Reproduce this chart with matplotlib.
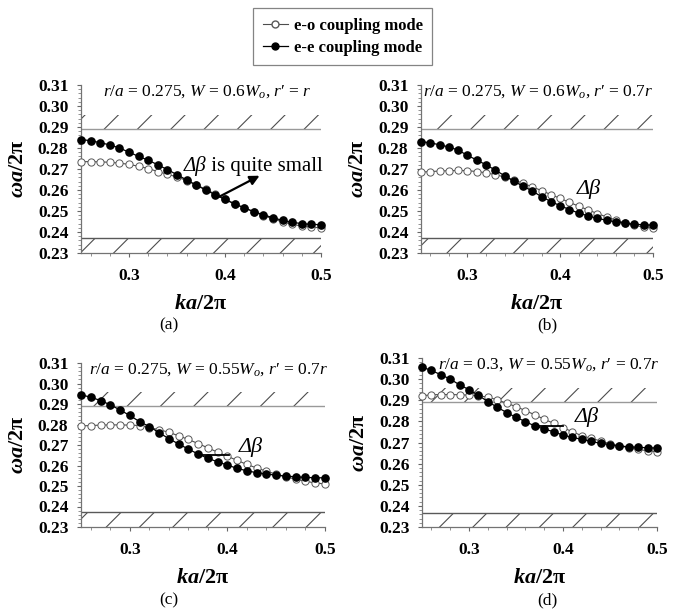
import numpy as np
import matplotlib
matplotlib.use("Agg")
import matplotlib.pyplot as plt
from matplotlib.ticker import MultipleLocator
from matplotlib.lines import Line2D

plt.rcParams['font.family'] = ['Liberation Serif', 'DejaVu Serif']
plt.rcParams['mathtext.fontset'] = 'custom'
plt.rcParams['mathtext.rm'] = 'Liberation Serif'
plt.rcParams['mathtext.it'] = 'Liberation Serif:italic'
plt.rcParams['mathtext.bf'] = 'Liberation Serif:bold'
plt.rcParams['mathtext.bfit'] = 'Liberation Serif:italic:bold'
plt.rcParams['hatch.linewidth'] = 0.8

# wave vector ka/2pi, same grid for every panel
ka = [0.25, 0.26, 0.27, 0.28, 0.29, 0.30, 0.31, 0.32, 0.33, 0.34, 0.35, 0.36, 0.37,
      0.38, 0.39, 0.40, 0.41, 0.42, 0.43, 0.44, 0.45, 0.46, 0.47, 0.48, 0.49, 0.50]

# (a) r/a=0.275, W=0.6Wo, r'=r
ee_a = [0.2840, 0.2835, 0.2825, 0.2815, 0.2800, 0.2780, 0.2760, 0.2742, 0.2720, 0.2697,
        0.2673, 0.2648, 0.2623, 0.2600, 0.2577, 0.2555, 0.2533, 0.2515, 0.2497, 0.2482,
        0.2468, 0.2455, 0.2446, 0.2440, 0.2436, 0.2435]
eo_a = [0.2735, 0.2735, 0.2734, 0.2732, 0.2728, 0.2722, 0.2713, 0.2702, 0.2688, 0.2675,
        0.2662, 0.2645, 0.2625, 0.2603, 0.2580, 0.2558, 0.2535, 0.2515, 0.2496, 0.2478,
        0.2462, 0.2448, 0.2437, 0.2428, 0.2423, 0.2420]

# (b) r/a=0.275, W=0.6Wo, r'=0.7r
ee_b = [0.2830, 0.2825, 0.2815, 0.2805, 0.2790, 0.2765, 0.2743, 0.2720, 0.2695, 0.2668,
        0.2642, 0.2618, 0.2595, 0.2568, 0.2545, 0.2525, 0.2507, 0.2490, 0.2477, 0.2465,
        0.2456, 0.2448, 0.2442, 0.2437, 0.2434, 0.2433]
eo_b = [0.2685, 0.2688, 0.2690, 0.2692, 0.2693, 0.2692, 0.2688, 0.2682, 0.2673, 0.2662,
        0.2648, 0.2632, 0.2615, 0.2597, 0.2578, 0.2560, 0.2541, 0.2523, 0.2505, 0.2488,
        0.2472, 0.2457, 0.2443, 0.2432, 0.2423, 0.2418]

# (c) r/a=0.275, W=0.55Wo, r'=0.7r
ee_c = [0.2945, 0.2933, 0.2917, 0.2896, 0.2871, 0.2844, 0.2814, 0.2790, 0.2760, 0.2731,
        0.2705, 0.2680, 0.2656, 0.2635, 0.2618, 0.2602, 0.2586, 0.2574, 0.2565, 0.2558,
        0.2553, 0.2548, 0.2545, 0.2542, 0.2540, 0.2540]
eo_c = [0.2793, 0.2795, 0.2797, 0.2798, 0.2798, 0.2797, 0.2795, 0.2785, 0.2775, 0.2762,
        0.2745, 0.2727, 0.2707, 0.2686, 0.2665, 0.2645, 0.2625, 0.2605, 0.2588, 0.2572,
        0.2558, 0.2545, 0.2533, 0.2523, 0.2515, 0.2510]

# (d) r/a=0.3, W=0.55Wo, r'=0.7r
ee_d = [0.3057, 0.3041, 0.3021, 0.3000, 0.2973, 0.2950, 0.2923, 0.2894, 0.2867, 0.2842,
        0.2819, 0.2799, 0.2778, 0.2764, 0.2751, 0.2735, 0.2724, 0.2715, 0.2705, 0.2696,
        0.2690, 0.2683, 0.2680, 0.2677, 0.2675, 0.2674]
eo_d = [0.2921, 0.2926, 0.2927, 0.2927, 0.2926, 0.2924, 0.2921, 0.2915, 0.2902, 0.2886,
        0.2870, 0.2851, 0.2831, 0.2810, 0.2791, 0.2770, 0.2751, 0.2732, 0.2720, 0.2707,
        0.2694, 0.2684, 0.2675, 0.2667, 0.2661, 0.2656]

titles = [r"$r/a$ = 0.275, $W$ = 0.6$W_o$, $r′$ = $r$",
          r"$r/a$ = 0.275, $W$ = 0.6$W_o$, $r′$ = 0.7$r$",
          r"$r/a$ = 0.275, $W$ = 0.55$W_o$, $r′$ = 0.7$r$",
          r"$r/a$ = 0.3, $W$ = 0.55$W_o$, $r′$ = 0.7$r$"]
panel_tags = ["(a)", "(b)", "(c)", "(d)"]

# band edges (upper band bottom / lower band top)
upper_edge = [0.289, 0.289, 0.289, 0.289]
lower_edge = [0.2372, 0.2372, 0.2375, 0.2368]

fig = plt.figure(figsize=(6.79, 6.16), dpi=100)
W, H = 679.0, 616.0
boxes = [(81, 321, 85, 253), (421, 653, 85, 253), (81, 325, 363, 527), (422, 657, 358, 527)]
# right end of the in-plot title, in pixels
title_right = [312, 653, 328, 660]

axes = []
for (l, r, t, b) in boxes:
    axes.append(fig.add_axes([l / W, 1 - b / H, (r - l) / W, (b - t) / H]))

series = [(ee_a, eo_a), (ee_b, eo_b), (ee_c, eo_c), (ee_d, eo_d)]

for i, ax in enumerate(axes):
    ee, eo = series[i]
    xs = [0.25, 0.5]
    # hatched band-gap edges
    ax.fill_between(xs, upper_edge[i], upper_edge[i] + 0.0068, facecolor='none',
                    edgecolor='0.3', hatch='/', linewidth=0, zorder=1)
    ax.axhline(upper_edge[i], color='0.6', lw=1.0, zorder=1)
    ax.fill_between(xs, 0.23, lower_edge[i], facecolor='none',
                    edgecolor='0.3', hatch='/', linewidth=0, zorder=1)
    ax.axhline(lower_edge[i], color='0.35', lw=1.0, zorder=1)

    ax.plot(ka, eo, '-o', color='0.3', lw=0.8, ms=5.2, mfc='white', mec='0.35',
            mew=0.7, zorder=3, clip_on=False)
    ax.plot(ka, ee, '-o', color='black', lw=0.9, ms=5.2, mfc='black', mec='black',
            zorder=4, clip_on=False)

    ax.set_xlim(0.25, 0.5)
    ax.set_ylim(0.23, 0.31)
    ax.set_xticks([0.3, 0.4, 0.5])
    ax.set_xticklabels(["0.3", "0.4", "0.5"])
    ax.set_yticks(np.arange(0.23, 0.3101, 0.01))
    ax.set_yticklabels(["%.2f" % v for v in np.arange(0.23, 0.3101, 0.01)])
    ax.xaxis.set_minor_locator(MultipleLocator(0.02))
    ax.yaxis.set_minor_locator(MultipleLocator(0.002))
    for lab in ax.get_xticklabels() + ax.get_yticklabels():
        lab.set_fontweight('bold')
        lab.set_fontsize(12.5)
    ax.tick_params(axis='both', which='major', direction='out', length=3, width=0.8,
                   color='0.4')
    ax.tick_params(axis='both', which='minor', direction='out', length=2, width=0.6,
                   color='0.5')
    ax.tick_params(axis='x', pad=8)
    ax.tick_params(axis='y', pad=6)
    for s in ['top', 'right']:
        ax.spines[s].set_visible(False)
    for s in ['left', 'bottom']:
        ax.spines[s].set_color('0.45')
        ax.spines[s].set_linewidth(0.9)

    ax.set_xlabel(r"$\mathbfit{ka}$/2π", fontsize=16, fontweight='bold', labelpad=7)
    ax.set_ylabel(r"$\mathbfit{ωa}$/2π", fontsize=16, fontweight='bold', labelpad=7)
    fig.text(title_right[i] / W, 1 - (boxes[i][2] - 2) / H, titles[i], ha='right',
             va='top', fontsize=12.5)

# delta beta annotations
db = axes[0].text(0.357, 0.2712, "Δβ", fontsize=15, ha='left', va='center',
                  style='italic')
axes[0].annotate(" is quite small", xy=(1, 0.5), xycoords=db, fontsize=15,
                 ha='left', va='center')
axes[0].annotate('', xy=(0.436, 0.2668), xytext=(0.394, 0.2568),
                 arrowprops=dict(arrowstyle='-|>', color='black', lw=1.6,
                                 mutation_scale=14, shrinkA=0, shrinkB=0))
axes[1].text(0.418, 0.2605, "Δβ", fontsize=16, ha='left', va='center', style='italic')
axes[2].plot([0.37, 0.402], [0.2652, 0.2652], color='black', lw=1.3, zorder=5)
axes[2].text(0.412, 0.2688, "Δβ", fontsize=16, ha='left', va='center', style='italic')
axes[3].plot([0.37, 0.40], [0.2778, 0.2778], color='black', lw=1.3, zorder=5)
axes[3].text(0.412, 0.2822, "Δβ", fontsize=16, ha='left', va='center', style='italic')

tag_pos = [(169, 325), (547, 325), (169, 600), (547, 600)]
for tag, (x, y) in zip(panel_tags, tag_pos):
    fig.text(x / W, 1 - y / H, tag, ha='center', va='center', fontsize=12.5)

handles = [Line2D([], [], color='0.3', lw=0.8, marker='o', ms=5, mfc='white', mec='0.35'),
           Line2D([], [], color='black', lw=0.9, marker='o', ms=5, mfc='black', mec='black')]
leg = fig.legend(handles, ["e-o coupling mode", "e-e coupling mode"],
                 loc='upper center', bbox_to_anchor=(0.505, 1.0), frameon=True,
                 fancybox=False, edgecolor='0.4', prop={'weight': 'bold', 'size': 12},
                 handlelength=1.5, handletextpad=0.4, borderpad=0.55, labelspacing=0.4)
leg.get_frame().set_linewidth(0.9)

fig.savefig("out.png", dpi=100)
